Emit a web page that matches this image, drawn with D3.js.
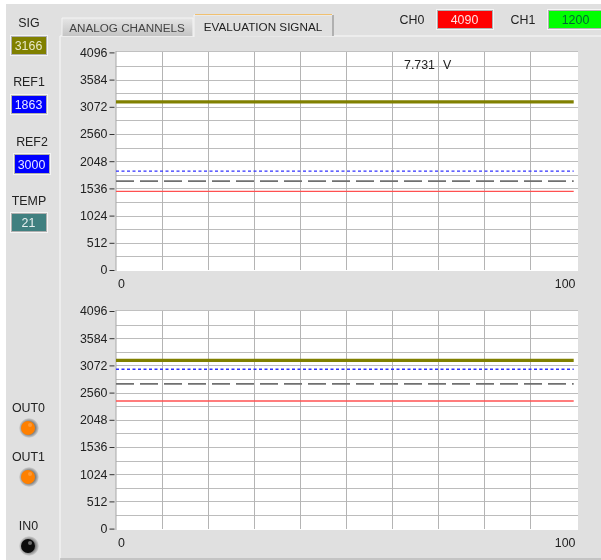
<!DOCTYPE html>
<html><head><meta charset="utf-8">
<script src="https://cdnjs.cloudflare.com/ajax/libs/d3/7.8.5/d3.min.js"></script>
<style>html,body{margin:0;padding:0;background:#fff}svg{display:block;filter:blur(.35px)}text{font-family:"Liberation Sans",Arial,sans-serif;font-size:12.4px;fill:#222}text.tab{font-size:11.7px}</style>
</head><body><svg id="c" width="601" height="560"></svg>
<script>
const xDomain=[0,100], yDomain=[0,4096];
const xTicks=[0,100];
const xGrid=[0,10,20,30,40,50,60,70,80,90,100];
const yTicks=[0,512,1024,1536,2048,2560,3072,3584,4096];
const yGrid=[256,512,768,1024,1280,1536,1792,2048,2304,2560,2816,3072,3328,3584,3840];
const traceX=[0,99.5];
const sigTop=[3166,3166], ref1Top=[1863,1863], dashTop=[1672,1672], redTop=[1480,1480];
const sigBottom=[3166,3166], ref2Bottom=[3000,3000], dashBottom=[2723,2723], redBottom=[2402,2402];
const tabs=["ANALOG CHANNELS","EVALUATION SIGNAL"];
const voltage="7.731", voltUnit="V";
const readouts=[
 {label:"SIG",value:"3166",bg:"#808000",fg:"#e8e8c8",lx:29,ly:27,bx:11,by:36,bw:36,bh:18},
 {label:"REF1",value:"1863",bg:"#0000ff",fg:"#e8e8ff",lx:29,ly:86,bx:11,by:95,bw:36,bh:18},
 {label:"REF2",value:"3000",bg:"#0000ff",fg:"#e8e8ff",lx:32,ly:146,bx:14,by:154,bw:36,bh:19},
 {label:"TEMP",value:"21",bg:"#408080",fg:"#e8f0f0",lx:29,ly:205,bx:11,by:213,bw:36,bh:18}];
const channels=[
 {label:"CH0",value:"4090",bg:"#ff0000",fg:"#ffe0e0",lx:412,bx:437,bw:56},
 {label:"CH1",value:"1200",bg:"#00ff00",fg:"#063",lx:523,bx:548,bw:56}];
const leds=[
 {label:"OUT0",color:"#ff8000",cy:428,ly:412},
 {label:"OUT1",color:"#ff8000",cy:477,ly:461},
 {label:"IN0",color:"#0c0c0c",cy:546,ly:530}];

const svg=d3.select("#c");
const bg="#e0e0e0";
svg.append("rect").attr("x",6).attr("y",4).attr("width",595).attr("height",556).attr("fill",bg);
svg.append("line").attr("x1",60).attr("x2",601).attr("y1",36).attr("y2",36).attr("stroke","#f2f2f2").attr("stroke-width",1.5);
svg.append("line").attr("x1",60).attr("x2",60).attr("y1",36).attr("y2",560).attr("stroke","#f2f2f2").attr("stroke-width",1.5);
svg.append("line").attr("x1",60).attr("x2",601).attr("y1",559).attr("y2",559).attr("stroke","#a8a8a8");
const defs=svg.append("defs");
const gr=defs.append("linearGradient").attr("id","tabg").attr("x1",0).attr("x2",0).attr("y1",0).attr("y2",1);
gr.append("stop").attr("offset",0).attr("stop-color","#e6e6e6");
gr.append("stop").attr("offset",1).attr("stop-color","#c4c4c4");
svg.append("path").attr("d","M62,36V18H193V36").attr("fill","url(#tabg)").attr("stroke","#f4f4f4");
svg.append("text").attr("class","tab").attr("x",127).attr("y",32).attr("text-anchor","middle").style("fill","#444").text(tabs[0]);
svg.append("path").attr("d","M194,37V15H333V36").attr("fill",bg).attr("stroke","#f4f4f4");
svg.append("path").attr("d","M333,15V36").attr("stroke","#777").attr("fill","none");
svg.append("path").attr("d","M195,14.5H332").attr("stroke","#f0c070").attr("fill","none");
svg.append("text").attr("class","tab").attr("x",263).attr("y",31).attr("text-anchor","middle").text(tabs[1]);

function box(b,x,y,w,h,val){
  svg.append("rect").attr("x",x-1).attr("y",y-1).attr("width",w+2).attr("height",h+3).attr("fill","#f4f4f4");
  svg.append("rect").attr("x",x).attr("y",y).attr("width",w).attr("height",h+1).attr("fill","#b0b0b0");
  svg.append("rect").attr("x",x+1).attr("y",y+1).attr("width",w-2).attr("height",h-1).attr("fill",b.bg);
  svg.append("text").attr("x",x+w/2-.5).attr("y",y+h-4.5).attr("text-anchor","middle").style("fill",b.fg).text(val);
}
readouts.forEach(r=>{
  svg.append("text").attr("x",r.lx).attr("y",r.ly).attr("text-anchor","middle").text(r.label);
  box(r,r.bx,r.by,r.bw,r.bh,r.value);
});
channels.forEach(c=>{
  svg.append("text").attr("x",c.lx).attr("y",24).attr("text-anchor","middle").text(c.label);
  box(c,c.bx,10,c.bw,18,c.value);
});
const rg=defs.append("radialGradient").attr("id","ring");
rg.append("stop").attr("offset",.65).attr("stop-color","#808080");
rg.append("stop").attr("offset",1).attr("stop-color","#d8d8d8");
leds.forEach(l=>{
  svg.append("text").attr("x",28.5).attr("y",l.ly).attr("text-anchor","middle").text(l.label);
  svg.append("circle").attr("cx",29).attr("cy",l.cy).attr("r",10).attr("fill","url(#ring)");
  svg.append("circle").attr("cx",28).attr("cy",l.cy).attr("r",7).attr("fill",l.color);
  svg.append("circle").attr("cx",30).attr("cy",l.cy-3).attr("r",2).attr("fill","#fff").attr("opacity",l.color==="#0c0c0c"?.4:.2);
});

const x=d3.scaleLinear().domain(xDomain).range([116,576]);
function plot(top,rectBottom,y0,y1,lines){
  const y=d3.scaleLinear().domain(yDomain).range([y0,y1]);
  const g=svg.append("g");
  g.append("rect").attr("x",116).attr("y",top).attr("width",462).attr("height",rectBottom-top).attr("fill","#fff");
  g.selectAll(".h").data(yGrid).join("line").attr("x1",116).attr("x2",578).attr("y1",d=>Math.round(y(d))+.5).attr("y2",d=>Math.round(y(d))+.5).attr("stroke","#bcbcbc");
  g.selectAll(".v").data(xGrid.slice(1,-1)).join("line").attr("x1",d=>Math.round(x(d))+.5).attr("x2",d=>Math.round(x(d))+.5).attr("y1",top).attr("y2",rectBottom-1).attr("stroke","#b4b4b4");
  g.append("line").attr("x1",116).attr("x2",578).attr("y1",top+.5).attr("y2",top+.5).attr("stroke","#c0c0c0");
  g.append("line").attr("x1",116).attr("x2",116).attr("y1",top).attr("y2",rectBottom).attr("stroke","#a8a8a8");
  const ln=d3.line().x((d,i)=>x(traceX[i])).y(d=>y(d));
  lines.forEach(l=>g.append("path").attr("d",ln(l.v)).attr("fill","none").attr("stroke",l.c).attr("stroke-width",l.w).attr("stroke-dasharray",l.d||null));
  const ax=d3.axisLeft(y).tickValues(yTicks).tickSize(5).tickPadding(2).tickFormat(d3.format("d"));
  const a=g.append("g").attr("transform","translate(114.5,0)").call(ax);
  a.select(".domain").remove();
  a.selectAll("line").attr("stroke","#333");
  a.selectAll("text").attr("font-size",null).attr("font-family",null).style("fill","#222");
  const bx=d3.axisBottom(x).tickValues(xTicks).tickSize(0).tickFormat(d3.format("d"));
  const b=g.append("g").attr("transform",`translate(0,${rectBottom})`).call(bx);
  b.select(".domain").remove();
  b.selectAll("text").attr("font-size",null).attr("font-family",null).attr("y",8.5).attr("dy",".71em")
    .attr("text-anchor",d=>d===0?"start":"end").attr("dx",d=>d===0?1.5:-1).style("fill","#222");
  return y;
}
plot(51,271,270,52.4,[
 {v:redTop,c:"#ff5050",w:1.3},
 {v:dashTop,c:"#707070",w:1.8,d:"18 6"},
 {v:ref1Top,c:"#3030ff",w:1.3,d:"3 2.5"},
 {v:sigTop,c:"#808000",w:3.2}]);
plot(310,530,528.6,311,[
 {v:redBottom,c:"#ff5050",w:1.3},
 {v:dashBottom,c:"#707070",w:1.8,d:"18 6"},
 {v:ref2Bottom,c:"#3030ff",w:1.3,d:"3 2.5"},
 {v:sigBottom,c:"#808000",w:3.2}]);
svg.append("text").attr("x",404).attr("y",69).text(voltage);
svg.append("text").attr("x",443).attr("y",69).text(voltUnit);
</script></body></html>
